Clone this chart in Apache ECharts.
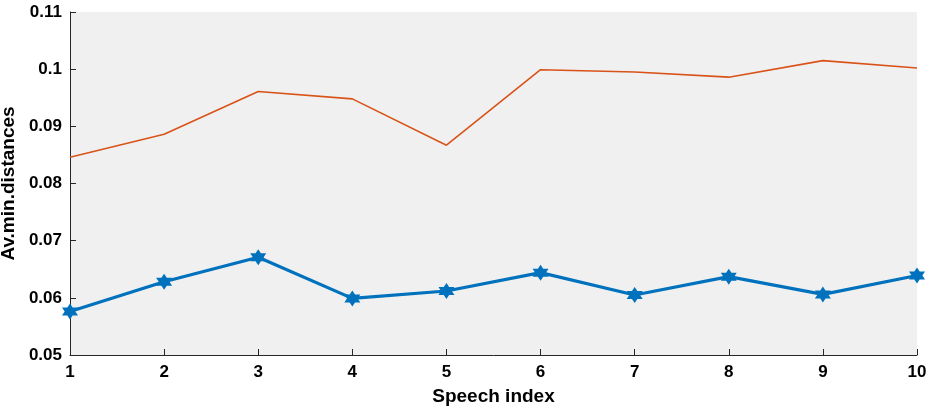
<!DOCTYPE html>
<html>
<head>
<meta charset="utf-8">
<script src="https://cdn.jsdelivr.net/npm/echarts@6/dist/echarts.min.js"></script>
<style>
  html, body { margin: 0; padding: 0; background: #fff; }
  #chart { width: 934px; height: 410px; }
</style>
</head>
<body>
<div id="chart"></div>
<script>
// Speech indices along the x axis
const speechIndex = [1, 2, 3, 4, 5, 6, 7, 8, 9, 10];
// Average minimum distances per speech
const upperSeries = [0.0846, 0.0886, 0.0961, 0.0948, 0.0867, 0.0999, 0.0995, 0.0986, 0.1015, 0.1002];
const lowerSeries = [0.0576, 0.0628, 0.0671, 0.0599, 0.0612, 0.0644, 0.0605, 0.0637, 0.0606, 0.0639];
const yTicks = [0.05, 0.06, 0.07, 0.08, 0.09, 0.10, 0.11];

// Six-pointed star marker
function hexagramPath() {
  const pts = [];
  for (let i = 0; i < 12; i++) {
    const r = i % 2 === 0 ? 10 : 5.8;
    const a = -Math.PI / 2 + i * Math.PI / 6;
    pts.push((r * Math.cos(a)).toFixed(3) + ' ' + (r * Math.sin(a)).toFixed(3));
  }
  return 'path://M' + pts.join(' L') + ' Z';
}

const font = '"Liberation Sans", Arial, Helvetica, sans-serif';
const axisColor = '#262626';

const chart = echarts.init(document.getElementById('chart'), null, { renderer: 'canvas' });
chart.setOption({
  animation: false,
  grid: {
    left: 70, right: 17, top: 12, bottom: 55,
    containLabel: false, outerBoundsMode: 'none',
    show: true, backgroundColor: '#f0f0f0', borderWidth: 0
  },
  xAxis: {
    type: 'value',
    min: speechIndex[0], max: speechIndex[speechIndex.length - 1], interval: 1,
    name: 'Speech index', nameLocation: 'middle', nameGap: 32,
    nameTextStyle: { fontFamily: font, fontWeight: 'bold', fontSize: 19, color: '#000' },
    axisLine: { lineStyle: { color: axisColor, width: 1 } },
    axisTick: { inside: true, length: 6, lineStyle: { color: axisColor } },
    axisLabel: { fontFamily: font, fontWeight: 'bold', fontSize: 17, color: '#000', margin: 9 },
    splitLine: { show: false }
  },
  yAxis: {
    type: 'value',
    min: yTicks[0], max: yTicks[yTicks.length - 1], interval: 0.01,
    name: 'Av.min.distances', nameLocation: 'middle', nameGap: 44,
    nameTextStyle: { fontFamily: font, fontWeight: 'bold', fontSize: 19, color: '#000' },
    axisLine: { show: true, lineStyle: { color: axisColor, width: 1 } },
    axisTick: { show: true, inside: true, length: 6, lineStyle: { color: axisColor } },
    axisLabel: {
      fontFamily: font, fontWeight: 'bold', fontSize: 17, color: '#000', margin: 8,
      formatter: v => String(parseFloat(v.toFixed(2)))
    },
    splitLine: { show: false }
  },
  series: [
    {
      type: 'line',
      data: speechIndex.map((x, i) => [x, upperSeries[i]]),
      showSymbol: false,
      lineStyle: { color: '#D95319', width: 1.6 },
      itemStyle: { color: '#D95319' }
    },
    {
      type: 'line',
      data: speechIndex.map((x, i) => [x, lowerSeries[i]]),
      symbol: hexagramPath(),
      symbolSize: 16,
      lineStyle: { color: '#0072BD', width: 3.2 },
      itemStyle: { color: '#0072BD' }
    }
  ]
});
</script>
</body>
</html>
